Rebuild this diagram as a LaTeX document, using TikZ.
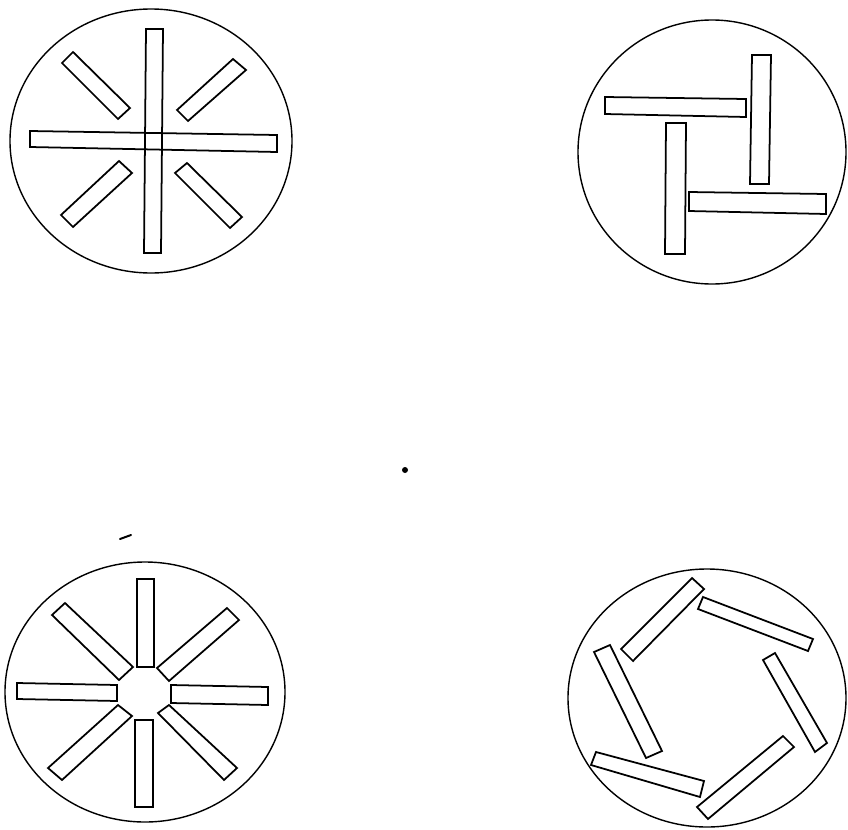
\documentclass[tikz,border=0pt]{standalone}
\usepackage{tikz}
\tikzset{
  disc/.style={draw=black, line width=1pt},
  blade/.style={draw=black, line width=1.25pt, line join=miter},
  speck/.style={fill=black},
}

\begin{document}
\begin{tikzpicture}[x=0.025cm, y=-0.025cm]
\useasboundingbox (0,0) rectangle (848,829);
% top left wheel
\draw[disc] (151,141) ellipse (141 and 132);
\draw[blade] (62,63) -- (73,52) -- (130,108) -- (118,119) -- cycle;
\draw[blade] (177,110) -- (233,59) -- (246,70) -- (188,121) -- cycle;
\draw[blade] (61,215) -- (119,161) -- (132,173) -- (73,227) -- cycle;
\draw[blade] (175,173) -- (187,163) -- (242,217) -- (230,228) -- cycle;
\draw[blade] (146,29) -- (163,29) -- (161,253) -- (144,253) -- cycle;
\draw[blade] (30,131) -- (277,135) -- (277,152) -- (30,147) -- cycle;
% top right wheel
\draw[disc] (712,152) ellipse (134 and 132);
\draw[blade] (605,97) -- (746,99) -- (746,117) -- (605,114) -- cycle;
\draw[blade] (752,55) -- (771,55) -- (769,184) -- (750,184) -- cycle;
\draw[blade] (666,123) -- (686,123) -- (685,254) -- (665,254) -- cycle;
\draw[blade] (689,192) -- (826,194) -- (826,214) -- (689,211) -- cycle;
% bottom left wheel
\draw[disc] (145,692) ellipse (140 and 130);
\draw[blade] (137,579) -- (154,579) -- (154,667) -- (137,667) -- cycle;
\draw[blade] (157,668) -- (227,608) -- (239,620) -- (169,681) -- cycle;
\draw[blade] (171,685) -- (268,687) -- (268,705) -- (171,703) -- cycle;
\draw[blade] (158,713) -- (169,705) -- (237,768) -- (224,780) -- cycle;
\draw[blade] (135,720) -- (153,720) -- (153,807) -- (135,807) -- cycle;
\draw[blade] (48,768) -- (118,705) -- (132,716) -- (62,780) -- cycle;
\draw[blade] (17,683) -- (117,685) -- (117,701) -- (17,699) -- cycle;
\draw[blade] (52,615) -- (65,603) -- (133,667) -- (119,680) -- cycle;
% bottom right wheel
\draw[disc] (707,698) ellipse (139 and 129);
\draw[blade] (621,649) -- (692,578) -- (704,589) -- (633,661) -- cycle;
\draw[blade] (698,609) -- (703,597) -- (813,639) -- (808,651) -- cycle;
\draw[blade] (763,660) -- (775,653) -- (827,743) -- (815,752) -- cycle;
\draw[blade] (697,807) -- (783,736) -- (794,747) -- (708,819) -- cycle;
\draw[blade] (591,765) -- (596,752) -- (704,781) -- (700,797) -- cycle;
\draw[blade] (594,652) -- (610,645) -- (662,751) -- (646,758) -- cycle;
% specks
\fill[speck] (405,470) circle (3);
\draw[line width=1.4pt, line cap=round] (120,539) -- (131,535);
\end{tikzpicture}
\end{document}
